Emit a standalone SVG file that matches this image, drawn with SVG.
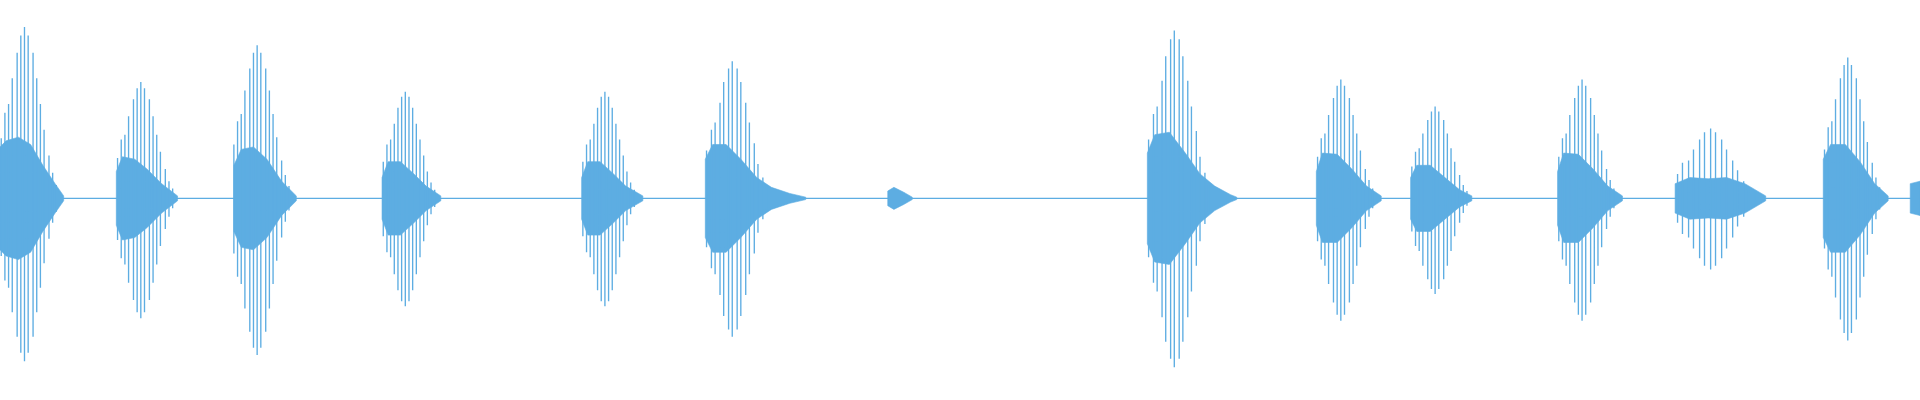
<svg xmlns="http://www.w3.org/2000/svg" width="1920" height="400" viewBox="0 0 1920 400">
<style>
.s{stroke:#5dade2;stroke-width:1.1;fill:none}
.c{fill:#5dade2;stroke:#5dade2;stroke-width:0.5}
</style>
<rect width="1920" height="400" fill="#fff"/>
<g transform="scale(1.2245)">
<path class="s" d="M0 162H1568" stroke-width="0.8"/>
<polygon class="c" points="0,120 5,115 15,112 25,118 35,135 45,150 52,160 52,164 45,174 35,189 25,206 15,212 5,209 0,204"/>
<polygon class="c" points="95,140 100,128 110,130 120,138 132,150 145,160 145,164 132,174 120,186 110,194 100,196 95,184"/>
<polygon class="c" points="191,135 197,122 207,120 218,130 230,148 242,160 242,164 230,176 218,194 207,204 197,202 191,189"/>
<polygon class="c" points="312,145 317,132 327,132 338,142 348,152 360,160 360,164 348,172 338,182 327,192 317,192 312,179"/>
<polygon class="c" points="475,145 480,132 490,132 501,142 511,152 525,160 525,164 511,172 501,182 490,192 480,192 475,179"/>
<polygon class="c" points="576,130 582,118 593,118 605,130 618,145 630,153 645,158 658,161 658,163 645,166 630,171 618,179 605,194 593,206 582,206 576,194"/>
<polygon class="c" points="725,156 730,153 738,157 745,161 745,163 738,167 730,171 725,168"/>
<polygon class="c" points="937,125 943,110 955,108 968,125 980,142 992,152 1005,159 1010,161 1010,163 1005,165 992,172 980,182 968,199 955,216 943,214 937,199"/>
<polygon class="c" points="1075,140 1080,125 1092,126 1104,138 1116,152 1128,160 1128,164 1116,172 1104,186 1092,198 1080,198 1075,184"/>
<polygon class="c" points="1152,145 1157,135 1168,135 1180,145 1192,155 1202,160 1202,164 1192,169 1180,179 1168,189 1157,189 1152,179"/>
<polygon class="c" points="1272,140 1277,125 1289,126 1301,138 1313,152 1325,160 1325,164 1313,172 1301,186 1289,198 1277,198 1272,184"/>
<polygon class="c" points="1368,150 1380,145 1395,146 1410,145 1425,150 1442,160 1442,164 1425,174 1410,179 1395,178 1380,179 1368,174"/>
<polygon class="c" points="1489,130 1495,118 1507,118 1519,132 1531,150 1542,160 1542,164 1531,174 1519,192 1507,206 1495,206 1489,194"/>
<polygon class="c" points="1560,150 1568,148 1568,176 1560,174"/>
<path class="s" d="M1 113V209M4 92V229M7 85V235M10 64V255M14 43V275M17 29V288M20 22V295M23 29V288M27 43V275M30 64V255M33 85V235M36 106V215M40 127V195M43 141V182M46 151V173"/>
<path class="s" d="M96 129V196M99 114V211M102 110V216M105 95V231M109 81V245M112 72V255M115 67V260M118 72V255M122 81V245M125 95V231M128 110V216M131 124V201M135 138V187M138 148V177M141 154V170"/>
<path class="s" d="M191 118V207M194 99V226M197 93V232M200 74V252M204 56V271M207 43V284M210 37V290M213 43V284M217 56V271M220 74V252M223 93V232M226 112V213M230 131V194M233 143V181M236 152V172"/>
<path class="s" d="M313 132V193M316 118V206M319 114V210M322 101V224M325 88V237M328 79V246M331 75V250M334 79V246M337 88V237M340 101V224M343 114V210M346 127V197M349 140V184M352 149V175M355 155V169"/>
<path class="s" d="M476 132V193M479 118V206M482 114V210M485 101V224M488 88V237M491 79V246M494 75V250M497 79V246M500 88V237M503 101V224M506 114V210M509 127V197M512 140V184M515 149V175M518 155V169"/>
<path class="s" d="M577 123V202M581 106V219M584 100V224M588 84V241M591 67V258M595 56V269M598 50V275M602 56V269M605 67V258M609 84V241M612 100V224M616 117V207M619 134V190M623 145V179M626 153V171"/>
<path class="s" d="M938 114V210M942 93V231M945 87V238M949 66V259M952 46V279M956 32V293M959 25V300M963 32V293M966 46V279M970 66V259M973 87V238M977 107V217M980 128V197M984 141V183M987 151V173"/>
<path class="s" d="M1076 128V197M1079 113V212M1082 109V217M1085 94V232M1089 80V247M1092 70V257M1095 65V262M1098 70V257M1102 80V247M1105 94V232M1108 109V217M1111 123V202M1115 138V187M1118 147V177M1121 154V170"/>
<path class="s" d="M1153 136V189M1156 124V201M1159 121V205M1162 109V217M1166 98V228M1169 91V236M1172 87V240M1175 91V236M1179 98V228M1182 109V217M1185 121V205M1188 132V193M1192 143V182M1195 151V174M1198 156V168"/>
<path class="s" d="M1273 128V197M1276 113V212M1279 109V217M1282 94V232M1286 80V247M1289 70V257M1292 65V262M1295 70V257M1299 80V247M1302 94V232M1305 109V217M1308 123V202M1312 138V187M1315 147V177M1318 154V170"/>
<path class="s" d="M1370 142V182M1374 133V191M1379 131V194M1383 122V203M1388 114V211M1392 108V217M1397 105V220M1401 108V217M1406 114V211M1410 122V203M1415 131V194M1419 139V185M1424 148V177M1428 153V171M1433 157V167"/>
<path class="s" d="M1490 122V203M1493 104V220M1496 99V226M1499 81V243M1503 64V261M1506 53V272M1509 47V278M1512 53V272M1516 64V261M1519 81V243M1522 99V226M1525 116V208M1529 133V191M1532 145V179M1535 153V171"/>
</g>
</svg>
